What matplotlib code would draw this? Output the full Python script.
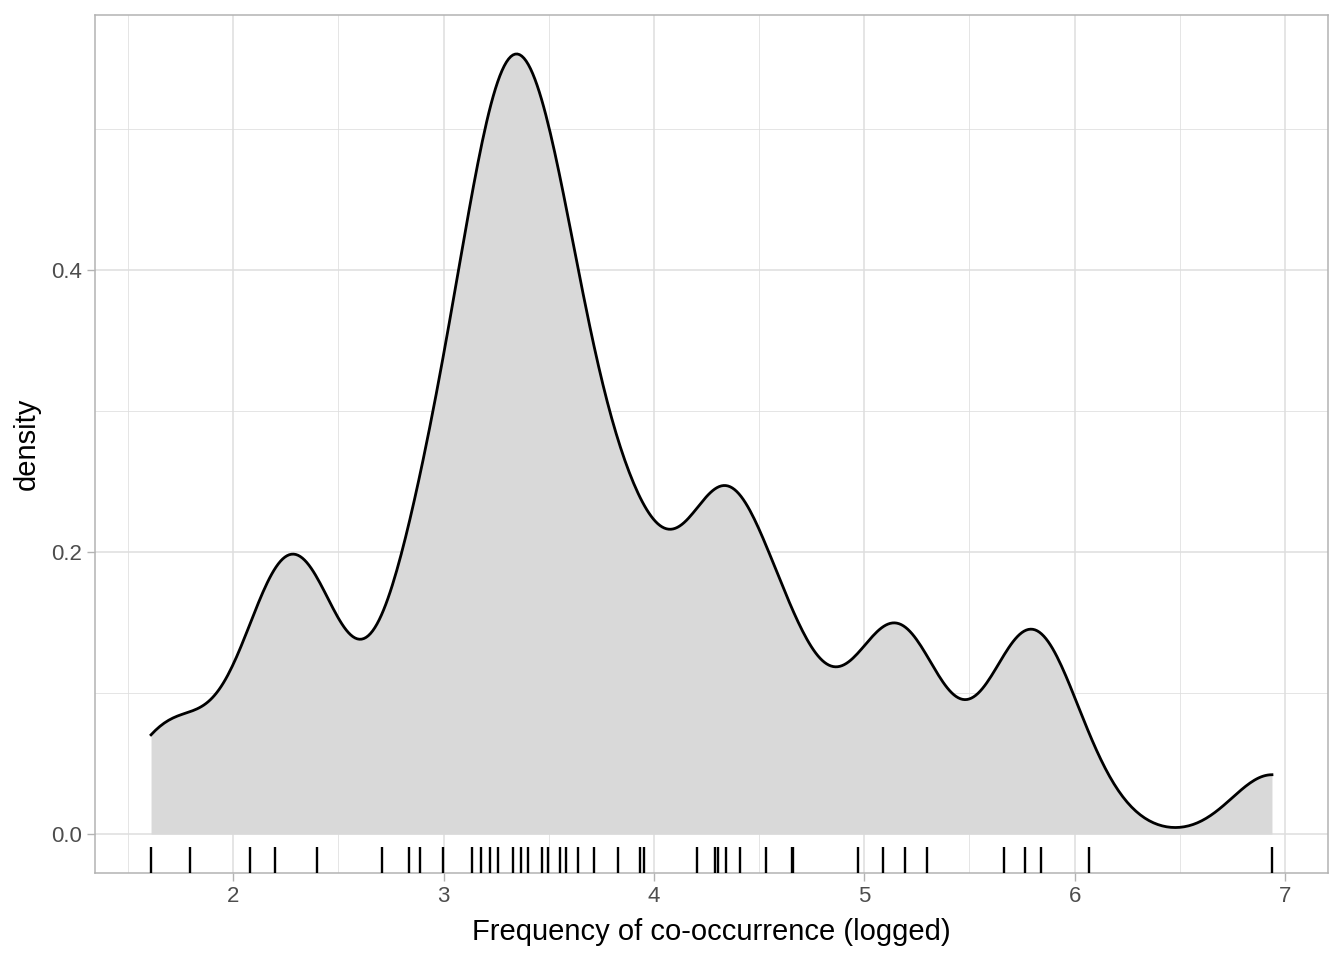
import numpy as np
import matplotlib
matplotlib.use('Agg')
import matplotlib.pyplot as plt
from matplotlib.ticker import FixedLocator, FormatStrFormatter

plt.rcParams['font.family'] = ['Liberation Sans', 'DejaVu Sans']

# logged co-occurrence frequencies (distinct values) and how often each occurs
log_freq = [1.609, 1.792, 2.079, 2.197, 2.398, 2.708, 2.833, 2.890, 2.996,
            3.135, 3.178, 3.219, 3.258, 3.332, 3.367, 3.401, 3.466, 3.497,
            3.555, 3.584, 3.638, 3.714, 3.829, 3.932, 3.951, 4.205, 4.290,
            4.304, 4.344, 4.407, 4.533, 4.654, 4.663, 4.970, 5.088, 5.193,
            5.298, 5.666, 5.765, 5.838, 6.068, 6.938]
n_obs = [2, 2, 1, 5, 5, 1, 2, 3, 3, 3, 3, 2, 5, 3, 3, 3, 2, 2, 3, 2, 3,
         2, 1, 5, 1, 1, 2, 3, 2, 2, 1, 1, 3, 1, 3, 2, 2, 2, 1, 4, 1, 2]
bw_adjust = 0.58

x = np.repeat(log_freq, n_obs)


def bw_nrd0(d):
    q75, q25 = np.percentile(d, [75, 25])
    lo = min(d.std(ddof=1), (q75 - q25) / 1.34)
    return 0.9 * lo * len(d) ** -0.2


h = bw_adjust * bw_nrd0(x)
gx = np.linspace(x.min(), x.max(), 512)
z = (gx[:, None] - x[None, :]) / h
gy = np.exp(-0.5 * z ** 2).sum(1) / (len(x) * h * np.sqrt(2 * np.pi))

fig = plt.figure(figsize=(13.44, 9.6), dpi=100)
ax = fig.add_axes([95 / 1344, 87 / 960, 1233 / 1344, 858 / 960])
ax.fill_between(gx, gy, color='#D9D9D9', lw=0, zorder=2)
ax.plot(gx, gy, color='black', lw=2.0, zorder=3)
# rug along the bottom
ax.vlines(log_freq, 0, 0.03, transform=ax.get_xaxis_transform(), color='black', lw=1.7, zorder=3)

rng = x.max() - x.min()
ax.set_xlim(x.min() - 0.05 * rng, x.max() + 0.05 * rng)
ax.set_ylim(-0.05 * gy.max(), 1.05 * gy.max())

ax.xaxis.set_major_locator(FixedLocator([2, 3, 4, 5, 6, 7]))
ax.xaxis.set_minor_locator(FixedLocator([1.5, 2.5, 3.5, 4.5, 5.5, 6.5]))
ax.yaxis.set_major_locator(FixedLocator([0, 0.2, 0.4]))
ax.yaxis.set_minor_locator(FixedLocator([0.1, 0.3, 0.5]))
ax.yaxis.set_major_formatter(FormatStrFormatter('%.1f'))
ax.grid(which='major', color='#DEDEDE', lw=1.1, zorder=0)
ax.grid(which='minor', color='#DEDEDE', lw=0.55, zorder=0)
ax.set_axisbelow(True)
for s in ax.spines.values():
    s.set_color('#B3B3B3')
    s.set_linewidth(1.1)
ax.tick_params(which='major', length=5.5, width=1, color='#B3B3B3', labelsize=16,
               labelcolor='#4D4D4D', pad=4)
ax.tick_params(which='minor', length=0)
ax.set_xlabel('Frequency of co-occurrence (logged)', fontsize=21, labelpad=8)
ax.set_ylabel('density', fontsize=21, labelpad=7)

fig.savefig('out.png', dpi=100)
